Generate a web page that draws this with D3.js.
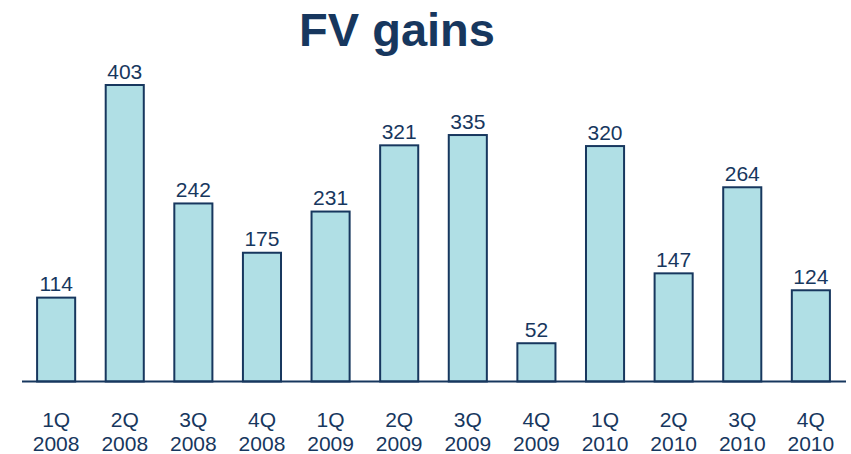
<!DOCTYPE html>
<html>
<head>
<meta charset="utf-8">
<script src="https://cdn.jsdelivr.net/npm/d3@7"></script>
<style>
  html, body { margin: 0; padding: 0; background: #fff; }
  svg { display: block; }
</style>
</head>
<body>
<svg id="chart" width="851" height="454"></svg>
<script>
// Quarterly fair-value gains
const quarters = ["1Q", "2Q", "3Q", "4Q", "1Q", "2Q", "3Q", "4Q", "1Q", "2Q", "3Q", "4Q"];
const years = ["2008", "2008", "2008", "2008", "2009", "2009", "2009", "2009", "2010", "2010", "2010", "2010"];
const gains = [114, 403, 242, 175, 231, 321, 335, 52, 320, 147, 264, 124];
const title = "FV gains";

const navy = "#17375E";
const svg = d3.select("#chart");

const keys = gains.map((_, i) => i);
const x = d3.scaleBand().domain(keys).range([22, 845]).paddingInner(0.445).paddingOuter(0.22);
const y = d3.scaleLinear().domain([0, 403]).range([381.5, 85]);

svg.append("text")
  .attr("x", 397).attr("y", 46)
  .attr("text-anchor", "middle")
  .attr("font-family", "Liberation Sans, Arial, sans-serif")
  .attr("font-weight", "bold")
  .attr("font-size", 47)
  .attr("fill", navy)
  .text(title);

// bars
svg.append("g").selectAll("rect")
  .data(gains)
  .join("rect")
  .attr("x", (d, i) => x(i))
  .attr("y", d => y(d))
  .attr("width", x.bandwidth())
  .attr("height", d => y(0) - y(d))
  .attr("fill", "#B0DFE5")
  .attr("stroke", navy)
  .attr("stroke-width", 2);

// value labels
svg.append("g").selectAll("text")
  .data(gains)
  .join("text")
  .attr("x", (d, i) => x(i) + x.bandwidth() / 2)
  .attr("y", d => y(d) - 6.5)
  .attr("text-anchor", "middle")
  .attr("font-family", "Liberation Sans, Arial, sans-serif")
  .attr("font-size", 21)
  .attr("fill", navy)
  .text(d => d);

// baseline
const axis = d3.axisBottom(x).tickSize(0).tickFormat(() => "");
const axisG = svg.append("g").attr("transform", `translate(0,${y(0)})`).call(axis);
axisG.select(".domain").attr("stroke", navy).attr("stroke-width", 2).attr("d", "M22,0H846");

// category labels (quarter over year)
const cat = svg.append("g").selectAll("text")
  .data(keys)
  .join("text")
  .attr("text-anchor", "middle")
  .attr("font-family", "Liberation Sans, Arial, sans-serif")
  .attr("font-size", 21)
  .attr("fill", navy);
cat.append("tspan")
  .attr("x", i => x(i) + x.bandwidth() / 2)
  .attr("y", 427)
  .text(i => quarters[i]);
cat.append("tspan")
  .attr("x", i => x(i) + x.bandwidth() / 2)
  .attr("y", 451)
  .text(i => years[i]);
</script>
</body>
</html>
